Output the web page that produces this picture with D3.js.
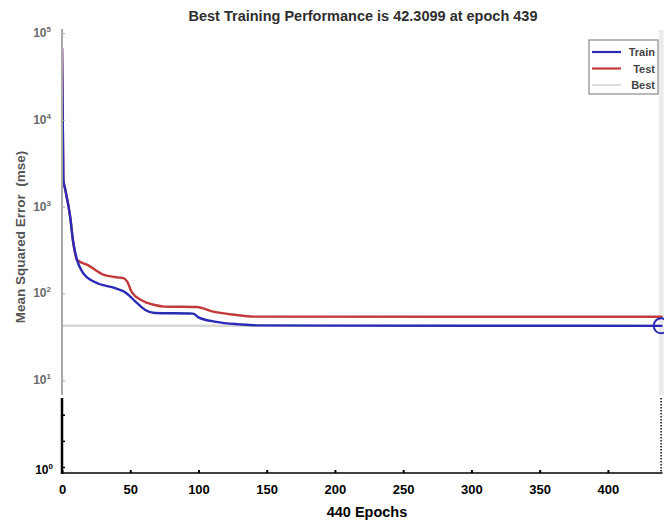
<!DOCTYPE html>
<html>
<head>
<meta charset="utf-8">
<script src="https://cdn.jsdelivr.net/npm/d3@7"></script>
<style>
  html, body { margin: 0; padding: 0; background: #fff; }
  svg { display: block; font-family: "Liberation Sans", Arial, sans-serif; }
</style>
</head>
<body>
<svg id="chart" width="664" height="523"></svg>
<script>
// Training record of the network: epoch, train MSE and test MSE at breakpoints
const totalEpochs = 440;
const bestEpoch = 439;
const bestPerf = 42.3099;

const trainEpochs = [0, 1, 2, 6, 8, 11, 15, 24, 39, 46, 54, 61, 68, 96, 100, 113, 130, 143, 200, 300, 439, 440];
const trainMSE    = [67000, 2000, 1680, 760, 410, 243, 176, 135, 115, 104, 80, 64.4, 59.4, 58.5, 53, 47, 44, 42.8, 42.5, 42.4, 42.3099, 42.3099];

const testEpochs = [0, 1, 2, 6, 8, 11, 19, 31, 42, 45, 48, 51, 58, 68, 75, 99, 110, 128, 140, 440];
const testMSE    = [67000, 2000, 1680, 760, 410, 243, 212, 163, 152, 150, 135, 104, 84, 73.5, 70.5, 69.7, 62, 56.4, 54, 53.9];

const xTickValues = [0, 50, 100, 150, 200, 250, 300, 350, 400];
const yDecades = [1e1, 1e2, 1e3, 1e4, 1e5];
const yLowerTicks = [1, 2, 4];

const titleText = `Best Training Performance is ${bestPerf} at epoch ${bestEpoch}`;
const xLabelText = `${totalEpochs} Epochs`;
const yLabelText = "Mean Squared Error  (mse)";
const legendItems = ["Train", "Test", "Best"];

// ---- layout ----
const svg = d3.select("#chart");
const plotLeft = 62, plotRight = 662.5, plotTop = 33, plotBottom = 467;
const axisLineY = 473;     // bottom axis line
const splitY = 396;        // faded upper band / crisp lower band

const x = d3.scaleLinear().domain([0, totalEpochs]).range([plotLeft, plotRight]);
const y = d3.scaleLog().domain([1, 1e5]).range([plotBottom, plotTop]);

const colors = { train: "#2a2ab4", test: "#c23a3a", best: "#d6d6d6" };

svg.append("defs").append("clipPath").attr("id", "plotClip")
  .append("rect").attr("x", plotLeft).attr("y", plotTop - 20)
  .attr("width", 664 - plotLeft).attr("height", axisLineY - plotTop + 20);

// Best markers: horizontal at best value, vertical at best epoch
svg.append("line")
  .attr("x1", x(0)).attr("x2", x(totalEpochs))
  .attr("y1", y(bestPerf)).attr("y2", y(bestPerf))
  .attr("stroke", colors.best).attr("stroke-width", 2.5);

svg.append("line")
  .attr("x1", x(bestEpoch)).attr("x2", x(bestEpoch))
  .attr("y1", plotTop - 3).attr("y2", splitY - 1)
  .attr("stroke", "#ebebeb").attr("stroke-width", 5);

svg.append("line")
  .attr("x1", x(bestEpoch)).attr("x2", x(bestEpoch))
  .attr("y1", splitY + 2).attr("y2", axisLineY)
  .attr("stroke", "#111").attr("stroke-width", 1.5)
  .attr("stroke-dasharray", "1.5,1.5");

// Performance curves
const line = d3.line().x(d => x(d[0])).y(d => y(d[1])).curve(d3.curveMonotoneX);
const trainPts = trainEpochs.map((e, i) => [e, trainMSE[i]]);
const testPts = testEpochs.map((e, i) => [e, testMSE[i]]);

const curves = svg.append("g").attr("clip-path", "url(#plotClip)");
curves.append("path").datum(testPts)
  .attr("d", line).attr("fill", "none")
  .attr("stroke", colors.test).attr("stroke-width", 2.4).attr("stroke-linejoin", "round");
curves.append("path").datum(trainPts)
  .attr("d", line).attr("fill", "none")
  .attr("stroke", colors.train).attr("stroke-width", 2.4).attr("stroke-linejoin", "round");

// Best point circle
svg.append("circle")
  .attr("cx", x(bestEpoch)).attr("cy", y(bestPerf)).attr("r", 7.5)
  .attr("fill", "none").attr("stroke", colors.train).attr("stroke-width", 2);

// ---- Y axis: faded upper band ----
const yAxisUpper = d3.axisLeft(y).tickValues(yDecades).tickSize(-3).tickFormat(() => "");
const gyU = svg.append("g").attr("transform", `translate(${plotLeft},0)`).call(yAxisUpper);
gyU.select(".domain").remove();
gyU.selectAll(".tick line").attr("stroke", "#aaa");

svg.append("line")
  .attr("x1", plotLeft).attr("x2", plotLeft)
  .attr("y1", plotTop - 4).attr("y2", splitY - 1)
  .attr("stroke", "#a8a8a8").attr("stroke-width", 2);

const decadeLabels = svg.append("g");
yDecades.forEach(v => {
  const t = decadeLabels.append("text")
    .attr("x", plotLeft - 11).attr("y", y(v) + 4)
    .attr("text-anchor", "end")
    .attr("font-size", 12).attr("font-weight", "bold").attr("fill", "#6a6a6a");
  t.append("tspan").text("10");
  t.append("tspan").attr("dy", -5).attr("font-size", 8).text(Math.round(Math.log10(v)));
});

// ---- Y axis: crisp lower band ----
const yAxisLower = d3.axisLeft(y).tickValues(yLowerTicks).tickSize(-3).tickFormat(() => "");
const gyL = svg.append("g").attr("transform", `translate(${plotLeft},0)`).call(yAxisLower);
gyL.select(".domain").remove();
gyL.selectAll(".tick line").attr("stroke", "#000").attr("stroke-width", 1.5);

svg.append("line")
  .attr("x1", plotLeft).attr("x2", plotLeft)
  .attr("y1", splitY + 2).attr("y2", axisLineY + 1)
  .attr("stroke", "#000").attr("stroke-width", 2.5);

const zeroLabel = svg.append("text")
  .attr("x", plotLeft - 9).attr("y", y(1) + 7)
  .attr("text-anchor", "end").attr("font-size", 12)
  .attr("font-weight", "bold").attr("fill", "#000");
zeroLabel.append("tspan").text("10");
zeroLabel.append("tspan").attr("dy", -5).attr("font-size", 8).text("0");

// ---- X axis ----
const xAxis = d3.axisBottom(x).tickValues(xTickValues).tickSize(-3).tickPadding(12);
const gx = svg.append("g").attr("transform", `translate(0,${axisLineY})`).call(xAxis);
gx.select(".domain").attr("stroke", "#000").attr("stroke-width", 1.5)
  .attr("d", `M${plotLeft},0H${x(totalEpochs)}`);
gx.selectAll(".tick line").attr("stroke", "#000").attr("stroke-width", 2);
gx.selectAll(".tick text")
  .attr("font-size", 13).attr("font-weight", "bold").attr("fill", "#000")
  .attr("font-family", "\"Liberation Sans\", Arial, sans-serif");

// ---- Texts ----
svg.append("text")
  .attr("x", 363).attr("y", 21).attr("text-anchor", "middle")
  .attr("font-size", 14.5).attr("font-weight", "bold").attr("fill", "#2e2e2e")
  .text(titleText);

svg.append("text")
  .attr("x", 367).attr("y", 517).attr("text-anchor", "middle")
  .attr("font-size", 14.5).attr("font-weight", "bold").attr("fill", "#000")
  .text(xLabelText);

svg.append("text")
  .attr("transform", "translate(25,237) rotate(-90)")
  .attr("text-anchor", "middle")
  .attr("font-size", 13.5).attr("font-weight", "bold").attr("fill", "#555")
  .attr("xml:space", "preserve")
  .style("white-space", "pre")
  .text(yLabelText);

// ---- Legend ----
const legend = svg.append("g").attr("transform", "translate(589,40)");
legend.append("rect")
  .attr("width", 69).attr("height", 54)
  .attr("fill", "#fff").attr("stroke", "#8a8a8a").attr("stroke-width", 1.2);
const legendStyles = [
  { color: colors.train, width: 2.2 },
  { color: colors.test, width: 2.2 },
  { color: "#bdbdbd", width: 1 }
];
legendItems.forEach((name, i) => {
  const ly = 12 + i * 16.5;
  legend.append("line")
    .attr("x1", 3).attr("x2", 32).attr("y1", ly).attr("y2", ly)
    .attr("stroke", legendStyles[i].color).attr("stroke-width", legendStyles[i].width);
  legend.append("text")
    .attr("x", 66).attr("y", ly + 4).attr("text-anchor", "end")
    .attr("font-size", 11).attr("font-weight", "bold").attr("fill", "#444")
    .text(name);
});
</script>
</body>
</html>
